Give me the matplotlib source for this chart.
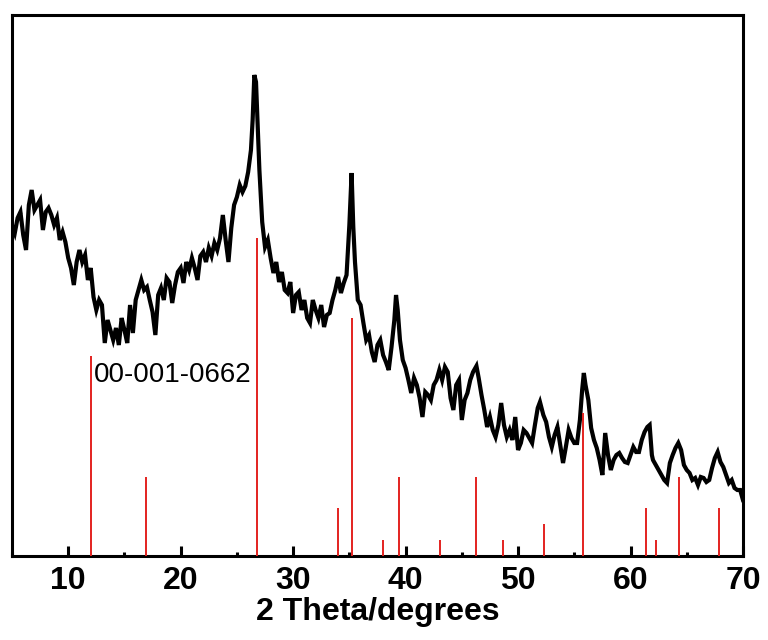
import numpy as np
import matplotlib
matplotlib.use("Agg")
from matplotlib import pyplot as plt
from matplotlib.ticker import MultipleLocator

plt.rcParams['font.family'] = ['Liberation Sans', 'DejaVu Sans']

# measured XRD pattern (2 theta in degrees, intensity in a.u.)
two_theta = [
    5.0, 5.25, 5.5, 5.75, 6.0, 6.25, 6.5, 6.75, 7.0, 7.25, 7.5, 7.75, 8.0, 8.25, 8.5, 8.75,
    9.0, 9.25, 9.5, 9.75, 10.0, 10.25, 10.5, 10.75, 11.0, 11.25, 11.5, 11.75, 12.0, 12.25, 12.5, 12.75,
    13.0, 13.25, 13.5, 13.75, 14.0, 14.25, 14.5, 14.75, 15.0, 15.25, 15.5, 15.75, 16.0, 16.25, 16.5, 16.75,
    17.0, 17.25, 17.5, 17.75, 18.0, 18.25, 18.5, 18.75, 19.0, 19.25, 19.5, 19.75, 20.0, 20.25, 20.5, 20.75,
    21.0, 21.25, 21.5, 21.75, 22.0, 22.25, 22.5, 22.75, 23.0, 23.25, 23.5, 23.75, 24.0, 24.25, 24.5, 24.75,
    25.0, 25.25, 25.5, 25.75, 26.0, 26.25, 26.4, 26.55, 26.7, 26.85,
    27.0, 27.25, 27.5, 27.75, 28.0, 28.25, 28.5, 28.75, 29.0, 29.25, 29.5, 29.75, 30.0, 30.25, 30.5, 30.75,
    31.0, 31.25, 31.5, 31.75, 32.0, 32.25, 32.5, 32.75, 33.0, 33.25, 33.5, 33.75, 34.0, 34.25, 34.5, 34.75,
    35.0, 35.2, 35.35, 35.5, 35.75, 36.0, 36.25, 36.5, 36.75, 37.0, 37.25, 37.5, 37.75, 38.0, 38.25, 38.5,
    38.75, 39.0, 39.15, 39.3, 39.5, 39.75, 40.0, 40.25, 40.5, 40.75, 41.0, 41.25, 41.5, 41.75, 42.0, 42.25,
    42.5, 42.75, 43.0, 43.25, 43.5, 43.75, 44.0, 44.25, 44.5, 44.75, 45.0, 45.25, 45.5, 45.75, 46.0, 46.3,
    46.5, 46.75, 47.0, 47.25, 47.5, 47.75, 48.0, 48.25, 48.5, 48.75, 49.0, 49.25, 49.5, 49.75, 50.0, 50.25,
    50.5, 50.75, 51.0, 51.25, 51.5, 51.75, 51.95, 52.25, 52.5, 52.75, 53.0, 53.25, 53.5, 53.75, 54.0, 54.25,
    54.5, 54.75, 55.0, 55.25, 55.5, 55.7, 55.85, 56.0, 56.25, 56.5, 56.75, 57.0, 57.25, 57.5, 57.75, 58.0,
    58.25, 58.5, 58.75, 59.0, 59.25, 59.5, 59.75, 60.0, 60.25, 60.5, 60.75, 61.0, 61.25, 61.5, 61.7, 61.9,
    62.0, 62.25, 62.5, 62.75, 63.0, 63.25, 63.5, 63.75, 64.0, 64.25, 64.5, 64.75, 65.0, 65.25, 65.5, 65.75,
    66.0, 66.25, 66.5, 66.75, 67.0, 67.25, 67.5, 67.75, 68.0, 68.25, 68.5, 68.75, 69.0, 69.25, 69.5, 69.75,
    70.0,
]
intensity = [
    331, 323, 338, 344, 321, 306, 351, 366, 346, 351, 356, 326, 344, 348, 341, 331,
    338, 316, 324, 314, 298, 288, 271, 294, 306, 294, 301, 276, 288, 259, 246, 256,
    251, 213, 236, 226, 216, 228, 211, 238, 226, 213, 251, 223, 256, 266, 276, 266,
    269, 256, 244, 221, 261, 268, 256, 278, 274, 253, 271, 284, 288, 273, 294, 286,
    298, 288, 276, 300, 304, 294, 308, 300, 313, 306, 318, 341, 316, 294, 328, 351,
    359, 371, 364, 370, 384, 406, 436, 481, 474, 429,
    386, 334, 309, 316, 298, 283, 294, 274, 284, 266, 263, 274, 243, 261, 264, 246,
    256, 238, 233, 256, 246, 238, 251, 229, 241, 243, 256, 266, 279, 263, 273, 281,
    331, 383, 329, 294, 256, 251, 233, 216, 221, 204, 194, 211, 216, 201, 194, 186,
    209, 236, 261, 246, 216, 196, 188, 176, 163, 178, 171, 158, 139, 164, 161, 156,
    171, 176, 186, 176, 189, 184, 158, 146, 171, 176, 136, 156, 163, 176, 184, 190,
    178, 161, 146, 129, 139, 126, 119, 131, 153, 131, 119, 126, 116, 139, 106, 113,
    126, 123, 118, 113, 131, 148, 154, 141, 134, 119, 109, 121, 129, 111, 93, 109,
    126, 118, 113, 113, 136, 166, 183, 171, 156, 128, 116, 108, 96, 81, 123, 101,
    86, 96, 101, 103, 98, 94, 93, 101, 109, 104, 104, 116, 124, 129, 131, 101,
    96, 91, 86, 81, 76, 73, 93, 101, 108, 113, 106, 91, 86, 83, 76, 78,
    71, 79, 78, 74, 76, 88, 98, 104, 94, 89, 81, 73, 76, 68, 66, 66,
    56,
]

# reference card 00-001-0662 (relative intensity, %)
ref_card = "00-001-0662"
ref_pos = [12.0, 16.9, 26.75, 34.0, 35.2, 38.0, 39.4, 43.1, 46.3, 48.7, 52.3, 55.75, 61.4, 62.3, 64.3, 67.9]
ref_rel = [63, 25, 100, 15, 75, 5, 25, 5, 25, 5, 10, 45, 15, 5, 25, 15]

ref_scale = 3.18  # a.u. per percent

fig = plt.figure(figsize=(7.68, 6.4), dpi=100)
ax = fig.add_axes([0.0156, 0.13125, 0.9518, 0.8453])

ax.plot(two_theta, intensity, color='black', lw=3.0, solid_joinstyle='miter', zorder=2)
ax.vlines(ref_pos, 0, np.array(ref_rel) * ref_scale, color='#e3221f', lw=1.4, zorder=3)
ax.text(12.25, 174, ref_card, fontsize=20, ha='left', va='baseline', zorder=4)

ax.set_xlim(5, 70)
ax.set_ylim(0, 541)
ax.xaxis.set_major_locator(MultipleLocator(10))
ax.xaxis.set_minor_locator(MultipleLocator(5))
ax.tick_params(axis='x', which='major', direction='in', length=7, width=2.2,
               labelsize=23, pad=7, top=False)
ax.tick_params(axis='x', which='minor', direction='in', length=3, width=2.2, top=False)
ax.tick_params(axis='y', which='both', left=False, right=False, labelleft=False)
for lbl in ax.get_xticklabels():
    lbl.set_fontweight('bold')
for sp in ax.spines.values():
    sp.set_linewidth(2.2)

ax.set_xlabel('2 Theta/degrees', fontsize=23, fontweight='bold', labelpad=1)

fig.savefig('out.png', dpi=100)
